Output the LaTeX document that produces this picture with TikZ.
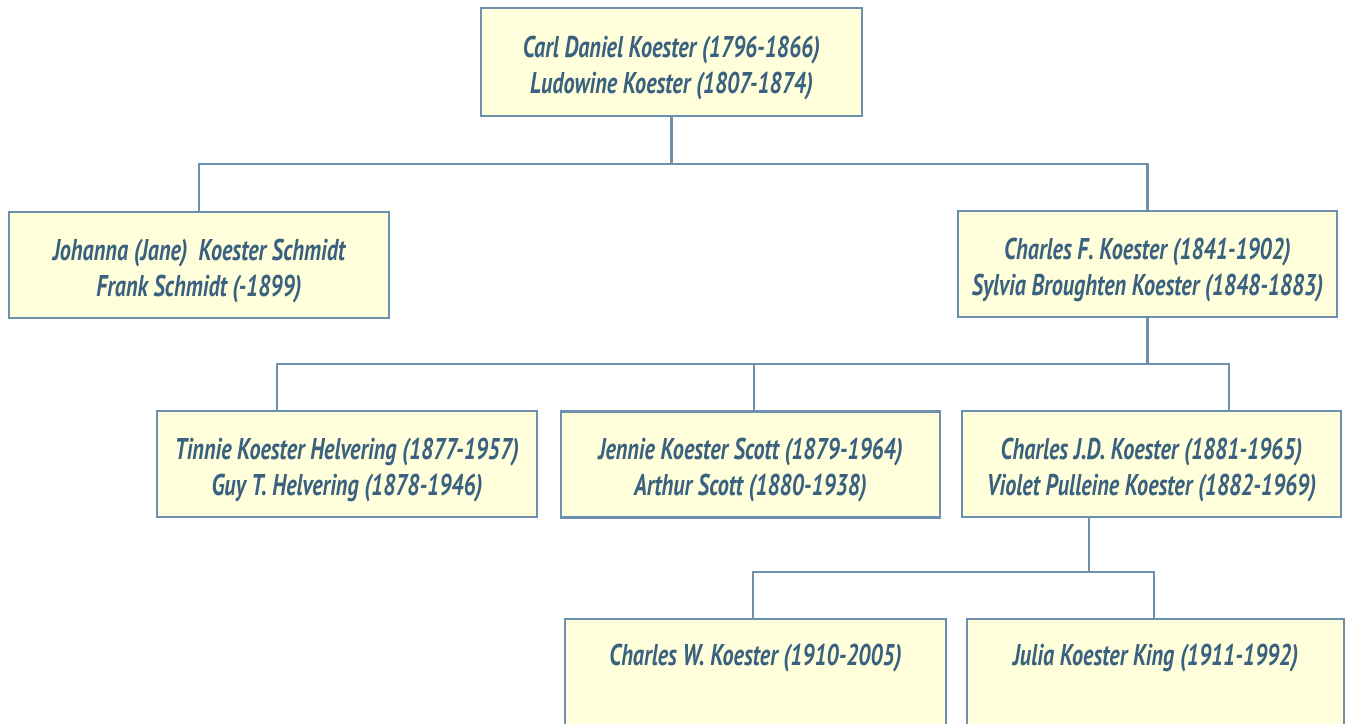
\documentclass[tikz,border=0pt]{standalone}
\usepackage{fontspec}
\setmainfont[FakeStretch=0.74]{PT Sans}
\definecolor{txt}{HTML}{3A6180}
\definecolor{edge}{HTML}{6D90AE}
\definecolor{fillc}{HTML}{FFFFDC}
\newcommand\lowerfirst{\rule{0pt}{33pt}}
\begin{document}
\begin{tikzpicture}[x=1pt,y=-1pt,
  box/.style={draw=edge,fill=fillc,line width=2.4pt,minimum height=106pt,
    align=center,inner sep=0pt,text=txt,
    font=\fontsize{30}{36}\selectfont\bfseries\itshape},
  link/.style={draw=edge,line width=2.4pt}]
\useasboundingbox (0,0) rectangle (1348,723);
\node[box,minimum width=381pt,minimum height=108pt] (top) at (671.5,62) {\lowerfirst Carl Daniel Koester (1796-1866)\\Ludowine Koester (1807-1874)};
\node[box,minimum width=380pt] (jane) at (199,265) {\lowerfirst Johanna (Jane)\ \ Koester Schmidt\\Frank Schmidt (-1899)};
\node[box,minimum width=379pt] (charlesF) at (1147.5,264) {\lowerfirst Charles F. Koester (1841-1902)\\Sylvia Broughten Koester (1848-1883)};
\node[box,minimum width=380pt] (tinnie) at (347,464) {\lowerfirst Tinnie Koester Helvering (1877-1957)\\Guy T. Helvering (1878-1946)};
\node[box,minimum width=379pt] (jennie) at (750.5,464.5) {\lowerfirst Jennie Koester Scott (1879-1964)\\Arthur Scott (1880-1938)};
\node[box,minimum width=379pt] (charlesJD) at (1151.5,464) {\lowerfirst Charles J.D. Koester (1881-1965)\\Violet Pulleine Koester (1882-1969)};
\node[box,minimum width=381pt] (charlesW) at (755.5,672) {\lowerfirst Charles W. Koester (1910-2005)\\\strut};
\node[box,minimum width=377pt] (julia) at (1155.5,672) {\lowerfirst Julia Koester King (1911-1992)\\\strut};
\coordinate (j1) at (671.5,164);
\coordinate (j2) at (1147.5,364);
\coordinate (j3) at (1089,572);
\draw[link] (top.south) -- (j1);
\draw[link] (jane.north) |- (j1) -| (charlesF.north);
\draw[link] (charlesF.south) -- (j2);
\draw[link] ([xshift=-70pt]tinnie.north) |- (j2) -| ([xshift=77.5pt]charlesJD.north);
\draw[link] ([xshift=3.5pt]jennie.north) -- ([xshift=3.5pt]jennie.north |- j2);
\draw[link] ([xshift=-62.5pt]charlesJD.south) -- (j3);
\draw[link] ([xshift=-2.5pt]charlesW.north) |- (j3) -| ([xshift=-1.5pt]julia.north);
\end{tikzpicture}
\end{document}
